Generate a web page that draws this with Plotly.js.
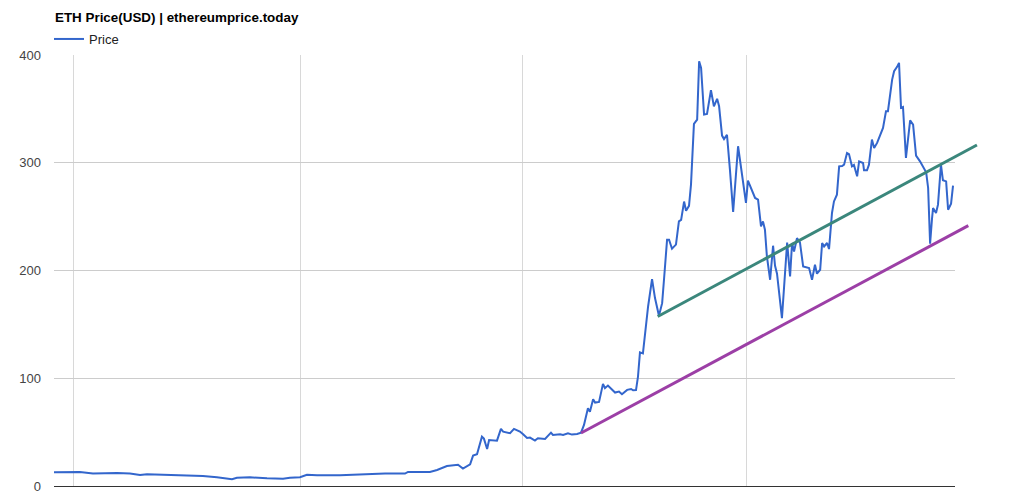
<!DOCTYPE html>
<html>
<head>
<meta charset="utf-8">
<script src="https://cdn.plot.ly/plotly-3.0.1.min.js"></script>
<style>
html,body{margin:0;padding:0;background:#fff;}
#chart{width:1019px;height:494px;}
</style>
</head>
<body>
<div id="chart"></div>
<script>
// Series start date (first data point) and day offsets from it
const startDate = "2016-09-23";
const dayOffsets = [0,4.5,10.5,15.8,25.6,30.8,34.9,37.7,44.2,52.3,
60.4,66.1,72.2,74.2,79.5,86.4,92.9,95.7,99.8,102.6,
106.7,116.0,125.4,134.3,142.4,143.6,152.5,155.4,159.4,161.5,
163.9,165.9,168.8,170.0,171.6,173.6,174.4,175.7,176.5,179.7,
180.1,181.3,182.2,185.0,186.6,189.0,190.3,191.9,193.1,195.1,
196.3,199.2,201.6,202.4,205.3,206.5,208.5,210.1,212.2,213.8,
215.0,216.6,217.4,218.7,219.5,221.1,222.7,223.5,224.7,227.6,
229.2,230.4,232.5,234.1,234.9,236.1,236.9,237.7,238.9,240.2,
241.0,242.6,243.8,245.4,246.7,247.5,248.7,249.5,250.7,252.3,
253.5,254.4,255.6,256.4,257.6,258.4,259.6,260.9,261.7,262.5,
263.7,264.9,266.5,267.7,269.0,269.8,271.0,271.8,273.0,274.2,
275.5,277.5,279.1,280.7,281.5,283.2,284.4,285.6,286.8,287.6,
288.4,289.2,290.5,291.7,292.5,293.3,294.5,295.3,297.4,298.6,
299.4,300.2,301.4,302.6,303.9,306.3,307.5,308.7,309.5,310.8,
311.6,312.4,313.6,314.4,315.6,316.4,317.6,318.5,319.7,320.5,
321.7,322.5,323.7,324.5,325.8,326.6,328.2,328.6,329.8,330.6,
331.8,332.7,333.9,335.1,336.3,337.5,338.3,340.0,340.8,342.0,
342.8,343.6,344.4,345.6,347.3,348.5,349.7,351.3,352.9,353.8,
354.6,355.4,356.2,356.6,357.8,358.6,359.8,360.6,361.9,362.7,
363.9,364.7];
const prices = [12.8,13.0,13.0,11.5,12.0,11.5,10.2,10.8,10.5,9.6,
9.3,8.1,6.3,7.7,8.1,7.1,6.8,7.7,8.1,10.5,
9.9,10.0,10.8,11.5,11.5,13.0,13.0,14.9,18.6,18.9,
19.8,16.1,20.1,28.2,29.4,45.8,44.0,34.4,42.7,42.1,
44.4,53.0,50.4,49.0,53.0,50.5,48.0,44.5,44.9,42.1,
44.3,43.7,49.5,47.4,48.0,47.4,49.0,47.7,48.3,49.5,
56.7,72.2,69.0,80.5,77.4,78.0,94.8,90.8,93.2,86.7,
87.7,85.2,89.2,90.0,88.8,89.0,101.6,124.0,123.0,150.0,
166.6,192.0,174.4,158.0,169.7,193.0,228.6,228.6,220.2,224.0,
245.6,247.0,264.0,255.5,260.0,279.7,336.0,340.0,394.2,388.0,
344.7,345.3,367.3,352.4,359.3,352.4,325.2,322.0,326.0,293.6,
254.3,315.3,287.4,262.7,283.4,273.4,267.3,265.7,241.0,245.6,
237.9,213.0,191.4,223.0,204.4,197.0,169.7,155.8,226.0,194.5,
225.5,217.7,230.0,226.0,203.8,202.3,191.4,205.3,197.0,200.7,
225.5,222.3,225.5,219.9,253.4,264.1,270.4,296.7,297.0,298.2,
309.0,308.0,296.7,298.0,287.4,301.3,299.8,293.0,293.0,298.2,
321.5,313.7,318.4,326.1,332.3,347.8,347.8,377.2,385.0,389.0,
392.7,351.0,351.8,304.5,339.4,335.4,306.6,301.3,295.2,291.1,
276.6,224.8,248.7,258.0,253.4,261.1,298.2,283.7,282.7,256.4,
262.0,278.7];

// Trend lines (day offsets and prices at their ends)
const upperTrendDays = [244.9, 374.4];
const upperTrendPrices = [157.3, 316.5];
const lowerTrendDays = [213.8, 370.9];
const lowerTrendPrices = [49.2, 241.6];

const yTicks = [0, 100, 200, 300, 400];
const seriesName = "Price";
const chartTitle = "ETH Price(USD) | ethereumprice.today";

const DAY = 86400000;
const base = Date.parse(startDate + "T00:00:00Z");
function toDate(d) { return new Date(base + d * DAY).toISOString().replace("Z", ""); }

const axisSpanDays = 365.5;           // visible x span of main plot
const mainFrac = 901 / 926;           // main plot width fraction of the paper
const extSpanDays = axisSpanDays / mainFrac;

const FONT = "Arial, 'Liberation Sans', sans-serif";

const data = [
  {
    x: dayOffsets.map(toDate), y: prices, type: "scatter", mode: "lines",
    name: seriesName, line: {color: "#3366cc", width: 2}, xaxis: "x", yaxis: "y"
  },
  {
    x: upperTrendDays.map(toDate), y: upperTrendPrices, type: "scatter", mode: "lines",
    showlegend: false, line: {color: "#3b877c", width: 3}, xaxis: "x2", yaxis: "y2"
  },
  {
    x: lowerTrendDays.map(toDate), y: lowerTrendPrices, type: "scatter", mode: "lines",
    showlegend: false, line: {color: "#9c3fa6", width: 3}, xaxis: "x2", yaxis: "y2"
  }
];

const layout = {
  width: 1019, height: 494,
  margin: {l: 54, r: 39, t: 55, b: 8, pad: 0},
  paper_bgcolor: "#ffffff", plot_bgcolor: "rgba(0,0,0,0)",
  font: {family: FONT, size: 13, color: "#444"},
  title: {
    text: chartTitle, x: 55 / 1019, xref: "container", xanchor: "left",
    y: 1 - 17 / 494, yref: "container", yanchor: "middle",
    font: {family: FONT, size: 13.4, color: "#000", weight: "bold"}
  },
  showlegend: true,
  legend: {
    orientation: "h", x: 49 / 1019, xanchor: "left", xref: "container",
    y: 1 - 39 / 494, yref: "container", yanchor: "middle",
    font: {family: FONT, size: 13, color: "#222"},
    bgcolor: "rgba(0,0,0,0)", borderwidth: 0, itemwidth: 30
  },
  xaxis: {
    type: "date", domain: [0, mainFrac],
    range: [toDate(0), toDate(axisSpanDays)],
    showgrid: true, gridcolor: "#d8d8d8", gridwidth: 1,
    tick0: "2016-10-01", dtick: "M3",
    showticklabels: false, ticks: "",
    showline: true, linecolor: "#333", linewidth: 1,
    zeroline: false, fixedrange: true
  },
  yaxis: {
    range: [0, 400], tickvals: yTicks, ticktext: yTicks.map(String),
    showgrid: true, gridcolor: "#cccccc", gridwidth: 1,
    zeroline: false, showline: false, ticks: "",
    ticklabelstandoff: 12,
    tickfont: {family: FONT, size: 13, color: "#444"}, fixedrange: true
  },
  xaxis2: {
    type: "date", domain: [0, 1], anchor: "y2",
    range: [toDate(0), toDate(extSpanDays)],
    visible: false, showgrid: false, zeroline: false, fixedrange: true
  },
  yaxis2: {
    range: [0, 400], anchor: "x2", domain: [0, 1],
    visible: false, showgrid: false, zeroline: false, fixedrange: true
  }
};

Plotly.newPlot("chart", data, layout, {staticPlot: true, displayModeBar: false});
</script>
</body>
</html>
